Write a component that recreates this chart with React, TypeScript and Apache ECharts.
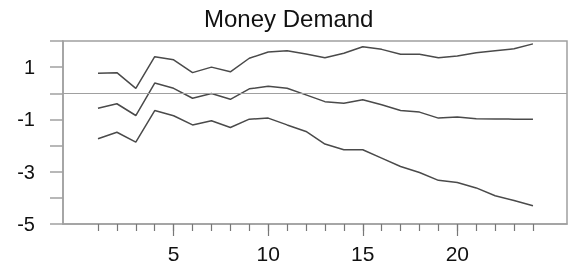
import React, { useEffect, useRef } from "react";
import * as echarts from "echarts";

const periods = [1, 2, 3, 4, 5, 6, 7, 8, 9, 10, 11, 12, 13, 14, 15, 16, 17, 18, 19, 20, 21, 22, 23, 24];
const upperBand = [0.77, 0.79, 0.19, 1.40, 1.28, 0.79, 1.0, 0.82, 1.34, 1.58, 1.63, 1.50, 1.36, 1.53, 1.78, 1.68, 1.49, 1.49, 1.36, 1.43, 1.55, 1.63, 1.70, 1.89];
const response = [-0.57, -0.40, -0.85, 0.39, 0.19, -0.19, -0.01, -0.23, 0.17, 0.27, 0.19, -0.06, -0.32, -0.38, -0.25, -0.44, -0.66, -0.72, -0.95, -0.91, -0.97, -0.98, -0.99, -0.99];
const lowerBand = [-1.74, -1.49, -1.87, -0.66, -0.86, -1.21, -1.05, -1.31, -0.99, -0.95, -1.21, -1.46, -1.94, -2.16, -2.16, -2.48, -2.80, -3.03, -3.33, -3.41, -3.62, -3.92, -4.10, -4.30];
const xMajorTicks = [5, 10, 15, 20];
const yLabelValues = [1, -1, -3, -5];

const FONT = "Liberation Sans, Arial, sans-serif";
const AXIS_COLOR = "#a0a0a0";
const LINE_COLOR = "#4a4a4a";

export default function App() {
  const ref = useRef<HTMLDivElement>(null);
  useEffect(() => {
    if (!ref.current) return;
    const chart = echarts.init(ref.current, undefined, { renderer: "svg" });
    const mk = (name: string, data: number[], extra: any = {}) => ({
      name,
      type: "line",
      xAxisIndex: 0,
      data: periods.map((p, i) => [p, data[i]]),
      showSymbol: false,
      symbol: "none",
      lineStyle: { color: LINE_COLOR, width: 1.5 },
      ...extra,
    });
    chart.setOption({
      animation: false,
      title: {
        text: "Money Demand",
        left: 204,
        top: 6,
        padding: 0,
        textStyle: { fontFamily: FONT, fontSize: 24, fontWeight: "normal", color: "#111" },
      },
      grid: {
        left: 63,
        right: 4,
        top: 41,
        bottom: 46,
        show: true,
        borderColor: AXIS_COLOR,
        borderWidth: 1.5,
        containLabel: false,
      },
      xAxis: [
        {
          type: "value",
          min: -0.85,
          max: 25.8,
          position: "bottom",
          axisLine: { show: true, onZero: false, lineStyle: { color: AXIS_COLOR, width: 1.5 } },
          axisTick: { show: true, length: 7, customValues: periods, lineStyle: { color: "#777", width: 1.2 } },
          axisLabel: { show: false },
          splitLine: { show: false },
        },
        {
          type: "value",
          min: -0.85,
          max: 25.8,
          position: "bottom",
          axisLine: { show: false, onZero: false },
          axisTick: { show: true, length: 12, customValues: xMajorTicks, lineStyle: { color: "#777", width: 1.2 } },
          axisLabel: {
            show: true,
            customValues: xMajorTicks,
            margin: 19,
            fontFamily: FONT,
            fontSize: 21,
            color: "#111",
          },
          splitLine: { show: false },
        },
      ],
      yAxis: {
        type: "value",
        min: -5,
        max: 2,
        interval: 1,
        axisLine: { show: true, onZero: false, lineStyle: { color: AXIS_COLOR, width: 1.5 } },
        axisTick: { show: true, length: 13, lineStyle: { color: AXIS_COLOR, width: 1.5 } },
        axisLabel: {
          margin: 28,
          fontFamily: FONT,
          fontSize: 20,
          color: "#111",
          formatter: (v: number) => (yLabelValues.includes(v) ? String(v) : ""),
        },
        splitLine: { show: false },
      },
      series: [
        mk("upper", upperBand, {
          markLine: {
            silent: true,
            symbol: "none",
            label: { show: false },
            lineStyle: { color: AXIS_COLOR, width: 1, type: "solid" },
            data: [{ yAxis: 0 }],
          },
        }),
        mk("response", response),
        mk("lower", lowerBand),
      ],
    });
    return () => chart.dispose();
  }, []);
  return <div ref={ref} style={{ position: "fixed", left: 0, top: 0, width: 571, height: 270 }} />;
}
